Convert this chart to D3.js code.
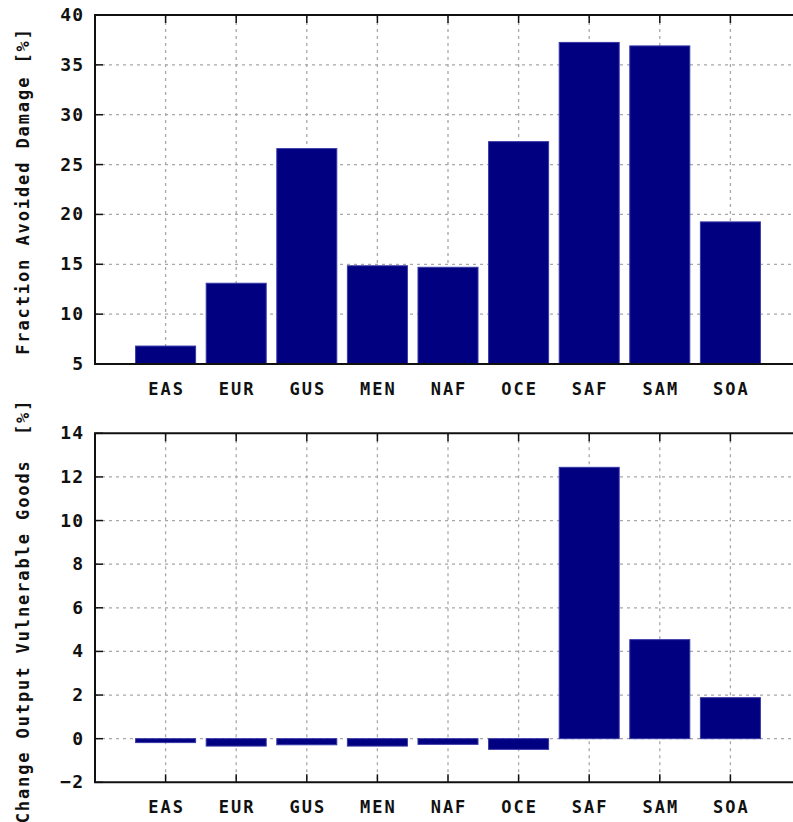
<!DOCTYPE html>
<html><head><meta charset="utf-8">
<script src="https://cdn.jsdelivr.net/npm/d3@7"></script>
<style>
html,body{margin:0;padding:0;background:#fff;}
text{font-family:"DejaVu Sans Mono",monospace;font-weight:bold;fill:#111;}
</style>
</head><body>
<svg id="c" width="793" height="822"></svg>
<script>
const categories = ["EAS","EUR","GUS","MEN","NAF","OCE","SAF","SAM","SOA"];
const avoidedDamage = [6.8, 13.1, 26.6, 14.85, 14.7, 27.3, 37.25, 36.9, 19.25];
const outputChange = [-0.18, -0.34, -0.28, -0.34, -0.26, -0.49, 12.44, 4.54, 1.88];
const topTicks = [5,10,15,20,25,30,35,40];
const bottomTicks = [-2,0,2,4,6,8,10,12,14];
const topLabel = "Fraction Avoided Damage [%]";
const bottomLabel = "Change Output Vulnerable Goods  [%]";

const svg = d3.select("#c");
const left = 95, right = 801;

function panel(cfg){
  const g = svg.append("g");
  const x = d3.scaleLinear().domain([0, categories.length+1]).range([left, right]);
  const y = d3.scaleLinear().domain(cfg.domain).range([cfg.bottom, cfg.top]);
  const bw = (x(1)-x(0))*0.85;
  // grid
  g.selectAll(".hg").data(cfg.ticks.filter(t=>t!==cfg.domain[0]&&t!==cfg.domain[1])).enter()
    .append("line").attr("x1",left).attr("x2",right)
    .attr("y1",d=>y(d)).attr("y2",d=>y(d))
    .attr("stroke","#a8a8a8").attr("stroke-width",1.3).attr("stroke-dasharray","3,4");
  g.selectAll(".vg").data(categories).enter()
    .append("line").attr("x1",(d,i)=>x(i+1)).attr("x2",(d,i)=>x(i+1))
    .attr("y1",cfg.top).attr("y2",cfg.bottom)
    .attr("stroke","#a8a8a8").attr("stroke-width",1.3).attr("stroke-dasharray","3,4");
  // ticks
  categories.forEach((c,i)=>{
    g.append("line").attr("x1",x(i+1)).attr("x2",x(i+1)).attr("y1",cfg.top).attr("y2",cfg.top+8).attr("stroke","#111").attr("stroke-width",1.5);
    g.append("line").attr("x1",x(i+1)).attr("x2",x(i+1)).attr("y1",cfg.bottom).attr("y2",cfg.bottom-8).attr("stroke","#111").attr("stroke-width",1.5);
  });
  cfg.ticks.forEach(t=>{
    g.append("line").attr("x1",left).attr("x2",left+8).attr("y1",y(t)).attr("y2",y(t)).attr("stroke","#111").attr("stroke-width",1.5);
  });
  // bars
  const base = Math.max(cfg.domain[0], 0);
  g.selectAll(".bar").data(cfg.values).enter().append("rect")
    .attr("x",(d,i)=>x(i+1)-bw/2).attr("width",bw)
    .attr("y",d=>y(Math.max(d,base))).attr("height",d=>Math.abs(y(d)-y(base)))
    .attr("fill","#000080").attr("stroke","#3838a8").attr("stroke-width",1);
  // border
  g.append("path").attr("d",`M${right},${cfg.top}H${left}V${cfg.bottom}H${right}`)
    .attr("fill","none").attr("stroke","#111").attr("stroke-width",2);
  // tick labels
  g.selectAll(".yl").data(cfg.ticks).enter().append("text")
    .attr("x",84).attr("y",d=>y(d)+6).attr("text-anchor","end")
    .attr("font-size",18).attr("letter-spacing",1)
    .text(d=>d<0?"\u2212"+Math.abs(d):d);
  g.selectAll(".xl").data(categories).enter().append("text")
    .attr("x",(d,i)=>x(i+1)+1).attr("y",cfg.xlabY).attr("text-anchor","middle")
    .attr("font-size",17).attr("letter-spacing",2)
    .text(d=>d);
  g.append("text").attr("transform",`translate(29,${cfg.labCy}) rotate(-90)`)
    .attr("text-anchor","middle").attr("font-size",17).attr("letter-spacing",1.9)
    .attr("xml:space","preserve").style("white-space","pre")
    .text(cfg.label);
}

panel({domain:[5,40], top:15, bottom:364, ticks:topTicks, values:avoidedDamage, xlabY:395, label:topLabel, labCy:191});
panel({domain:[-2,14], top:433.3, bottom:782.3, ticks:bottomTicks, values:outputChange, xlabY:813, label:bottomLabel, labCy:611});
</script>
</body></html>
